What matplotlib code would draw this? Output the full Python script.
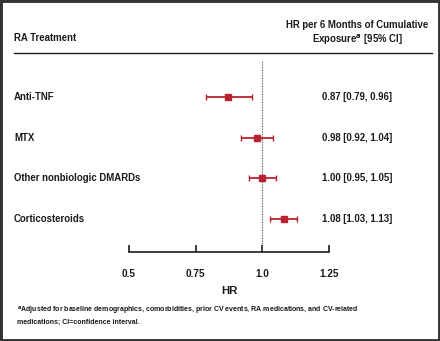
import matplotlib
matplotlib.use("Agg")
import matplotlib.pyplot as plt
from matplotlib.patches import Rectangle
from matplotlib.lines import Line2D
from matplotlib.transforms import blended_transform_factory

# ============ DATA ============
treatments = ["Anti-TNF", "MTX", "Other nonbiologic DMARDs", "Corticosteroids"]
hr = [0.87, 0.98, 1.00, 1.08]
ci_low = [0.79, 0.92, 0.95, 1.03]
ci_high = [0.96, 1.04, 1.05, 1.13]
x_ticks = [0.5, 0.75, 1.0, 1.25]
x_tick_labels = ["0.5", "0.75", "1.0", "1.25"]

W, H = 440, 341
FONT = ["Liberation Sans Narrow", "Liberation Sans", "DejaVu Sans"]
RED = "#bb2230"
INK = "#1a1a1a"
FS = 6.9

plt.rcParams["font.family"] = FONT
plt.rcParams["font.weight"] = "bold"

fig = plt.figure(figsize=(W / 100, H / 100), dpi=100)
fig.patch.set_facecolor("white")

def fx(px):
    return px / W

def fy(py):
    return 1 - py / H

# forest plot axes: x 0.5 -> px 129, 1.25 -> px 329; spans y px 61..252
ax = fig.add_axes([fx(129), fy(252), fx(329) - fx(129), (252 - 61) / H])
ax.set_xlim(0.5, 1.25)
ax.set_ylim(3.82, -0.9)
rows = list(range(len(treatments)))

for i in rows:
    ax.errorbar(hr[i], i, xerr=[[hr[i] - ci_low[i]], [ci_high[i] - hr[i]]],
                fmt="s", color=RED, ms=4.5, elinewidth=1.3, capsize=2.2,
                capthick=1.0, clip_on=False)

ax.axvline(1.0, color="#555555", lw=0.8, ls=(0, (1.2, 1.2)))

for s in ["top", "right", "left"]:
    ax.spines[s].set_visible(False)
ax.spines["bottom"].set_color(INK)
ax.spines["bottom"].set_linewidth(1.2)
ax.set_yticks([])
ax.set_xticks(x_ticks)
ax.set_xticklabels(x_tick_labels, fontsize=7.2, fontweight="bold", color=INK)
ax.tick_params(axis="x", direction="in", length=5, width=1.2, color=INK, pad=12)
ax.set_xlabel("HR", fontsize=8.2, fontweight="bold", color=INK, labelpad=5)

# row labels and values
trans = blended_transform_factory(fig.transFigure, ax.transData)
for i in rows:
    ax.text(fx(14), i, treatments[i], transform=trans, ha="left", va="center",
            fontsize=FS, fontweight="bold", color=INK)
    ax.text(fx(392), i, f"{hr[i]:.2f} [{ci_low[i]:.2f}, {ci_high[i]:.2f}]",
            transform=trans, ha="right", va="center",
            fontsize=FS, fontweight="bold", color=INK)

# header
fig.text(fx(14), fy(38), "RA Treatment", ha="left", va="center",
         fontsize=FS, fontweight="bold", color=INK)
fig.text(fx(357), fy(25), "HR per 6 Months of Cumulative", ha="center", va="center",
         fontsize=FS, fontweight="bold", color=INK)
fig.text(fx(357), fy(40), "Exposure$^{a}$ [95% CI]", ha="center", va="center",
         fontsize=FS, fontweight="bold", color=INK)
fig.add_artist(Line2D([fx(14), fx(432)], [fy(53), fy(53)], color=INK, lw=1.0))

# footnote
fig.text(fx(17), fy(311),
         "$^{a}$Adjusted for baseline demographics, comorbidities, prior CV events, RA medications, and CV-related",
         ha="left", va="center", fontsize=5.0, fontweight="bold", color=INK)
fig.text(fx(17), fy(322), "medications; CI=confidence interval.",
         ha="left", va="center", fontsize=5.0, fontweight="bold", color=INK)

# outer border
fig.add_artist(Rectangle((0, 0), 1, 1, transform=fig.transFigure, fill=False,
                         edgecolor="#333333", lw=3.5))

fig.savefig("out.png", dpi=100)
